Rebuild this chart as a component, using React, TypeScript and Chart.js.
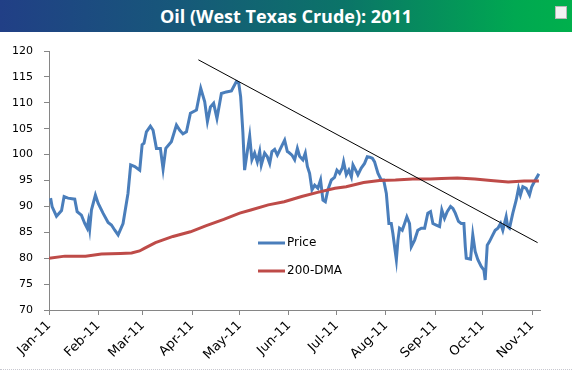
import React, { useEffect, useRef } from "react";
import { Chart, registerables } from "chart.js";

Chart.register(...registerables);

const TITLE = "Oil (West Texas Crude): 2011";

// x values are days since Jan 1, 2011
const monthLabels = ["Jan-11", "Feb-11", "Mar-11", "Apr-11", "May-11", "Jun-11", "Jul-11", "Aug-11", "Sep-11", "Oct-11", "Nov-11"];
const monthStartDays = [0, 31, 59, 90, 120, 151, 181, 212, 243, 273, 304];

const yTicks = [70, 75, 80, 85, 90, 95, 100, 105, 110, 115, 120];

const priceDays = [
  1, 2, 4.7, 7.9, 9.5, 12, 16.2, 17.7, 20.4, 22.5, 24, 24.8, 25.6, 26.7, 29.2, 30.9, 34, 37.2, 39.3, 41.4,
  43.5, 46.6, 49.7, 51.4, 54, 57.1, 58.6, 59.8, 61.3, 63.8, 65.5, 67.6, 70.1, 71.8, 73.5, 77, 80.2, 82.3, 84.3, 86.5,
  89, 92.8, 95.5, 98, 99.7, 101.6, 103.6, 105.7, 108.5, 111.6, 114.8, 117.9, 119.4, 120.6, 122, 123.1, 124.8, 126.3, 127.7, 129.4,
  131.1, 132.6, 133.6, 135.7, 137.4, 138.9, 140.3, 142, 143.7, 146.2, 148.3, 150, 151, 152.9, 154.6, 156.3, 157.7, 159.8, 161.3, 162.6,
  164, 165.5, 167.2, 169.2, 170.9, 172.4, 173.9, 175.5, 177.7, 179.7, 181.2, 182.9, 184.6, 185.4, 187.1, 188.7, 190.3, 191.3, 193, 194.4,
  196.5, 198.6, 200.3, 201.8, 203.5, 204.9, 207, 209.1, 210.6, 212.3, 213.9, 215.4, 216.4, 217.9, 218.6, 219.6, 220.6, 222.3, 223.8, 225.2,
  226.9, 228, 230.1, 232.1, 234.3, 236.4, 238.4, 240.1, 241.6, 243.7, 245.8, 247.2, 248.9, 250.6, 252.7, 254.2, 255.7, 257.7, 259.4, 261.1,
  262, 262.6, 265.3, 266.7, 268.2, 269.9, 272, 273.7, 274.5, 275.8, 277.2, 279.3, 280.8, 282.5, 284.2, 285.6, 287.7, 288.7, 289.8, 291.9,
  294, 295.5, 296.7, 298.2, 300.3, 302.4, 303.8, 305.5, 307.2, 308.3,
];
const priceValues = [
  91.6, 89.9, 88.1, 89.2, 91.9, 91.6, 91.4, 89.0, 88.3, 86.7, 85.8, 87.2, 85.6, 89.3, 92.2, 90.6, 88.7, 86.9, 86.4, 85.4,
  84.5, 86.7, 92.5, 98.0, 97.7, 97.0, 101.9, 102.2, 104.4, 105.5, 104.7, 101.2, 101.2, 97.2, 101.2, 102.5, 105.7, 104.7, 104.0, 104.4,
  108.0, 108.6, 112.8, 110.2, 106.4, 109.2, 109.9, 107.0, 111.8, 112.1, 112.3, 114.1, 113.8, 111.2, 104.4, 97.0, 100.6, 103.6, 99.0, 100.3,
  98.6, 100.6, 98.0, 100.3, 99.6, 98.3, 100.6, 101.0, 99.9, 101.5, 102.8, 100.6, 100.4, 99.9, 99.0, 101.2, 99.7, 99.0, 100.3, 97.7,
  96.4, 93.2, 94.1, 93.5, 95.1, 91.2, 90.9, 93.2, 95.1, 95.6, 97.0, 96.4, 97.4, 98.6, 96.1, 97.0, 95.7, 98.0, 97.0, 96.1,
  97.4, 98.3, 99.6, 99.5, 99.3, 98.6, 96.4, 95.1, 95.1, 92.5, 86.7, 86.7, 84.8, 81.3, 79.7, 83.5, 85.8, 85.4, 86.7, 88.0,
  86.7, 82.2, 83.5, 85.4, 85.8, 85.8, 88.7, 89.0, 86.7, 86.4, 86.1, 89.3, 87.7, 89.0, 90.0, 89.6, 88.7, 87.1, 86.7, 86.7,
  82.2, 80.0, 79.8, 84.5, 81.3, 79.7, 78.4, 77.7, 75.8, 82.5, 83.2, 84.5, 85.4, 85.8, 86.7, 85.4, 88.0, 86.1, 85.8, 88.7,
  91.2, 93.5, 92.2, 93.8, 93.5, 92.2, 93.8, 94.8, 95.7, 96.3,
];

const dmaDays = [0, 10, 23, 33, 45, 52, 57, 60, 67, 78, 89, 99, 110, 120, 127, 138, 148, 159, 169, 180, 187, 198, 208, 218, 229, 240, 247, 257, 268, 278, 289, 299, 308.3];
const dmaValues = [80.0, 80.4, 80.4, 80.8, 80.9, 81.0, 81.4, 81.9, 83.0, 84.2, 85.1, 86.3, 87.5, 88.7, 89.3, 90.3, 90.9, 91.9, 92.7, 93.5, 93.8, 94.6, 95.0, 95.1, 95.3, 95.3, 95.4, 95.5, 95.3, 95.0, 94.7, 94.9, 94.9];

const trendDays = [94, 307.5];
const trendValues = [118.3, 83.0];

const seriesNames = ["Price", "200-DMA"];

const toPoints = (xs: number[], ys: number[]) => xs.map((x, i) => ({ x, y: ys[i] }));

const FONT = "'DejaVu Sans', Verdana, sans-serif";

const legendPlugin = {
  id: "innerLegend",
  afterDraw(chart: any) {
    const ctx = chart.ctx;
    const entries = [
      { label: seriesNames[0], color: "#4a7ebb", y: 243 },
      { label: seriesNames[1], color: "#be4b48", y: 271 },
    ];
    ctx.save();
    entries.forEach((e) => {
      ctx.strokeStyle = e.color;
      ctx.lineWidth = 3;
      ctx.beginPath();
      ctx.moveTo(258, e.y);
      ctx.lineTo(285, e.y);
      ctx.stroke();
      ctx.fillStyle = "#000";
      ctx.font = "12px " + FONT;
      ctx.textBaseline = "middle";
      ctx.textAlign = "left";
      ctx.fillText(e.label, 287, e.y);
    });
    ctx.restore();
  },
};

export default function App() {
  const ref = useRef<HTMLCanvasElement>(null);

  useEffect(() => {
    if (!ref.current) return;
    const chart = new Chart(ref.current, {
      type: "line",
      data: {
        datasets: [
          {
            label: seriesNames[0],
            data: toPoints(priceDays, priceValues),
            borderColor: "#4a7ebb",
            borderWidth: 3,
            pointRadius: 0,
            tension: 0,
            order: 3,
          },
          {
            label: seriesNames[1],
            data: toPoints(dmaDays, dmaValues),
            borderColor: "#be4b48",
            borderWidth: 3,
            pointRadius: 0,
            tension: 0,
            order: 2,
          },
          {
            label: "Trend",
            data: toPoints(trendDays, trendValues),
            borderColor: "#000000",
            borderWidth: 1,
            pointRadius: 0,
            tension: 0,
            order: 1,
          },
        ],
      },
      options: {
        animation: false,
        responsive: false,
        devicePixelRatio: 1,
        layout: { padding: { top: 51, right: 32, left: 0, bottom: 0 } },
        plugins: {
          legend: { display: false },
          tooltip: { enabled: false },
          title: { display: false },
        },
        scales: {
          x: {
            type: "linear",
            min: 0,
            max: 309,
            afterBuildTicks: (scale: any) => {
              scale.ticks = monthStartDays.map((v) => ({ value: v }));
            },
            afterFit: (scale: any) => {
              scale.height = 61;
            },
            ticks: {
              autoSkip: false,
              minRotation: 45,
              maxRotation: 45,
              padding: 3,
              color: "#000",
              font: { family: FONT, size: 13 },
              callback: (v: any) => {
                const i = monthStartDays.indexOf(Number(v));
                return i >= 0 ? monthLabels[i] : "";
              },
            },
            grid: { drawOnChartArea: false, drawTicks: true, tickLength: 5, color: "#868686" },
            border: { display: true, color: "#868686", width: 1 },
          },
          y: {
            type: "linear",
            min: 70,
            max: 120,
            afterBuildTicks: (scale: any) => {
              scale.ticks = yTicks.map((v) => ({ value: v }));
            },
            afterFit: (scale: any) => {
              scale.width = 49;
            },
            ticks: {
              padding: 11,
              color: "#000",
              font: { family: FONT, size: 11 },
            },
            grid: { drawOnChartArea: false, drawTicks: true, tickLength: 5, color: "#868686" },
            border: { display: true, color: "#868686", width: 1 },
          },
        },
      },
      plugins: [legendPlugin],
    });
    return () => chart.destroy();
  }, []);

  return (
    <div
      style={{
        position: "fixed",
        left: 0,
        top: 0,
        width: 572,
        height: 371,
        background: "#ffffff",
        overflow: "hidden",
      }}
    >
      <canvas ref={ref} width={572} height={371} style={{ position: "absolute", left: 0, top: 0 }} />
      <div
        style={{
          position: "absolute",
          left: 0,
          top: 0,
          width: 572,
          height: 32,
          background: "linear-gradient(to right, #213f86 0%, #17577a 30%, #0b7468 60%, #00a851 90%, #00b04c 100%)",
          color: "#ffffff",
          fontFamily: "'Open Sans', 'Noto Sans', sans-serif",
          fontWeight: 700,
          fontSize: 18,
          lineHeight: "32px",
          textAlign: "center",
          whiteSpace: "nowrap",
        }}
      >
        {TITLE}
      </div>
      <div
        style={{
          position: "absolute",
          left: 555,
          top: 6,
          width: 12,
          height: 13,
          border: "1px solid #b8b8b8",
          background: "#f2f2f2",
          boxSizing: "border-box",
        }}
      />
      <div
        style={{
          position: "absolute",
          left: 0,
          top: 369,
          width: 572,
          height: 0,
          borderTop: "1px dotted #c8c8d0",
        }}
      />
    </div>
  );
}
